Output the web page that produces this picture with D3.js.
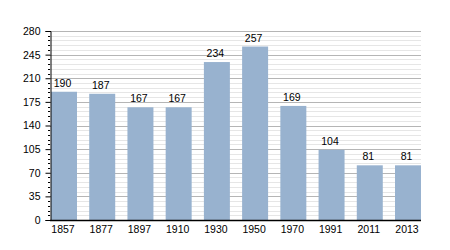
<!DOCTYPE html>
<html><head><meta charset="utf-8">
<script src="https://cdn.jsdelivr.net/npm/d3@7"></script>
<style>body{margin:0;background:#fff}svg{display:block}text{font-family:"Liberation Sans",Arial,sans-serif}</style>
</head><body>
<svg id="c" width="450" height="250"></svg>
<script>
const years = ["1857","1877","1897","1910","1930","1950","1970","1991","2011","2013"];
const population = [190,187,167,167,234,257,169,104,81,81];
const yTicks = [0,35,70,105,140,175,210,245,280];

(function(){
const svg = d3.select("#c");
const mL = 50, mR = 421, mT = 31, mB = 220;
const FS = 10.5;
const x = d3.scaleBand().domain(years).range([mL+1, mR]).paddingInner(0.32).paddingOuter(0);
const y = d3.scaleLinear().domain([0,280]).range([mB, mT]);

const minor = d3.range(0, 281, 7).filter(v => v % 35 !== 0);
svg.append("g").selectAll("line").data(minor).join("line")
  .attr("x1", mL).attr("x2", mR)
  .attr("y1", d => Math.round(y(d))+0.5).attr("y2", d => Math.round(y(d))+0.5)
  .attr("stroke", "#e6e6e6").attr("stroke-width", 1);
svg.append("g").selectAll("line").data(yTicks.filter(v=>v>0)).join("line")
  .attr("x1", mL).attr("x2", mR)
  .attr("y1", d => Math.round(y(d))+0.5).attr("y2", d => Math.round(y(d))+0.5)
  .attr("stroke", "#b5b5b5").attr("stroke-width", 1);

svg.append("g").selectAll("rect").data(population).join("rect")
  .attr("x", (d,i) => x(years[i]))
  .attr("width", x.bandwidth())
  .attr("y", d => y(d))
  .attr("height", d => mB - y(d))
  .attr("fill", "#98b2cf");

svg.append("g").selectAll("text").data(population).join("text")
  .attr("x", (d,i) => x(years[i]) + x.bandwidth()/2 - 1.5)
  .attr("y", d => y(d) - 5)
  .attr("text-anchor", "middle")
  .attr("font-size", FS).attr("fill", "#000")
  .text(d => d);

const ya = d3.axisLeft(y).tickValues(yTicks).tickSize(5).tickPadding(5);
const yg = svg.append("g").attr("transform", `translate(${mL+0.5},0)`).call(ya);
yg.select(".domain").attr("stroke", "#000");
yg.selectAll(".tick text").attr("font-size", FS).attr("fill", "#000").style("font-family", '"Liberation Sans",Arial,sans-serif');
yg.selectAll(".tick line").attr("stroke", "#000");
svg.append("g").selectAll("line").data(minor).join("line")
  .attr("x1", mL-2).attr("x2", mL)
  .attr("y1", d => Math.round(y(d))+0.5).attr("y2", d => Math.round(y(d))+0.5)
  .attr("stroke", "#000");

const xa = d3.axisBottom(x).tickSize(0).tickPadding(5);
const xg = svg.append("g").attr("transform", `translate(0,${mB+0.5})`).call(xa);
xg.select(".domain").attr("d", `M${mL},0H${mR}`).attr("stroke", "#000").attr("stroke-width", 1.5);
xg.selectAll(".tick text").attr("font-size", FS).attr("fill", "#000").attr("dx", -1).style("font-family", '"Liberation Sans",Arial,sans-serif');
})();
</script>
</body></html>
